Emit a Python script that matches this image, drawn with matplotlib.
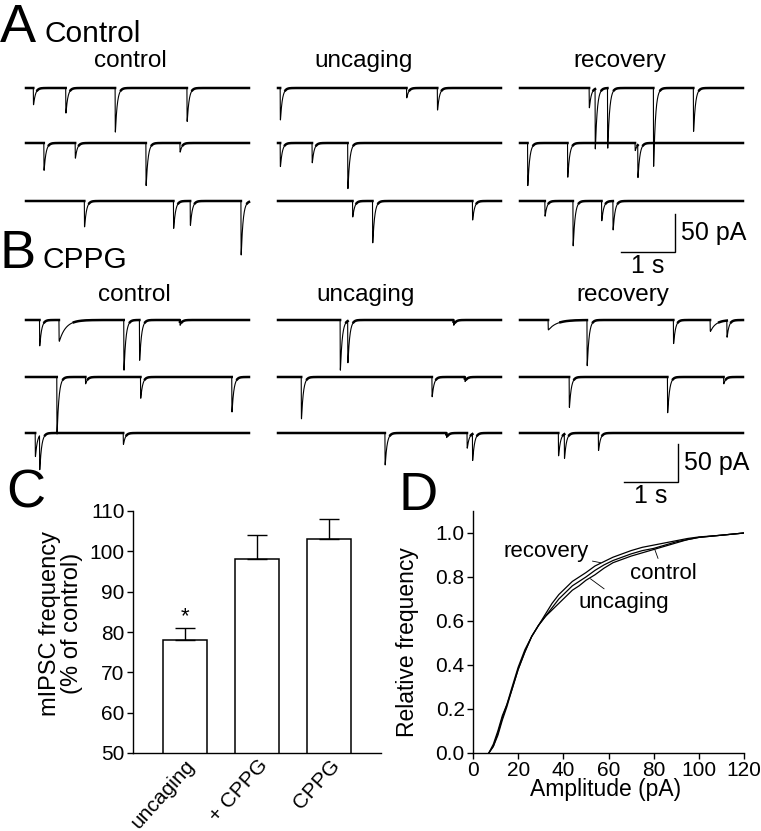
import numpy as np
import matplotlib.pyplot as plt

plt.rcParams['font.family'] = ['Liberation Sans', 'DejaVu Sans']

W, H = 761, 831
DPI = 100

# ---------------- sweeps: mIPSC events (time s, amplitude pA[, decay s]) ----------------
TRACE_DUR = 4.13
ctrl_control = [
    [(0.135, 22), (0.735, 33), (1.65, 58), (2.98, 44)],
    [(0.33, 36), (0.91, 20), (2.22, 56), (2.85, 12)],
    [(1.08, 34), (2.73, 36), (3.04, 32), (3.98, 71)],
]
ctrl_uncaging = [
    [(0.04, 42), (2.38, 13), (2.95, 29)],
    [(0.04, 31), (0.63, 26), (1.29, 60)],
    [(1.38, 21), (1.75, 55), (3.60, 25)],
]
ctrl_recovery = [
    [(1.28, 26), (1.39, 79), (1.62, 79), (2.47, 103), (3.21, 57)],
    [(0.14, 56), (0.88, 45), (2.13, 10), (2.18, 43)],
    [(0.46, 20), (0.98, 59), (1.51, 26), (1.72, 38)],
]
cppg_control = [
    [(0.25, 34), (0.61, 28, 0.12), (1.81, 66), (2.10, 53), (2.85, 7)],
    [(0.57, 75), (1.10, 9), (2.12, 28), (3.81, 46)],
    [(0.17, 31), (0.25, 45), (1.80, 15)],
]
cppg_uncaging = [
    [(1.15, 66), (1.29, 55), (3.25, 7)],
    [(0.43, 55), (2.85, 26), (3.46, 6)],
    [(1.98, 42), (3.12, 6), (3.50, 20), (3.60, 35)],
]
cppg_recovery = [
    [(0.52, 13, 0.15), (1.24, 60), (2.84, 31), (3.52, 15, 0.1), (3.83, 22)],
    [(0.91, 40), (2.73, 47), (3.77, 9)],
    [(0.71, 30), (0.82, 32), (1.45, 23)],
]
col_titles = ['control', 'uncaging', 'recovery']

# ---------------- C: mIPSC frequency ----------------
bar_names = ['uncaging', '+ CPPG', 'CPPG']
bar_vals = [78, 98, 103]
bar_err = [3, 6, 5]

# ---------------- D: cumulative amplitude ----------------
amp = [7, 9, 11, 13, 15, 17, 20, 23, 26, 29, 32, 35, 38, 41, 44, 47, 50, 54, 58,
       62, 66, 70, 75, 80, 85, 90, 95, 100, 110, 120]
cum_recovery = [0, 0.04, 0.10, 0.17, 0.22, 0.28, 0.38, 0.46, 0.53, 0.58, 0.63, 0.68,
                0.72, 0.75, 0.78, 0.80, 0.82, 0.85, 0.87, 0.89, 0.905, 0.92, 0.935,
                0.945, 0.955, 0.965, 0.975, 0.982, 0.99, 1.0]
cum_control = [0, 0.03, 0.08, 0.15, 0.21, 0.28, 0.38, 0.46, 0.53, 0.58, 0.62, 0.66,
               0.70, 0.73, 0.76, 0.78, 0.80, 0.83, 0.855, 0.875, 0.89, 0.905, 0.92,
               0.93, 0.945, 0.96, 0.97, 0.98, 0.99, 1.0]
cum_uncaging = [0, 0.03, 0.09, 0.16, 0.22, 0.29, 0.39, 0.47, 0.53, 0.58, 0.62, 0.65,
                0.68, 0.71, 0.74, 0.76, 0.785, 0.81, 0.84, 0.865, 0.88, 0.895, 0.91,
                0.925, 0.94, 0.955, 0.97, 0.98, 0.99, 1.0]

fig = plt.figure(figsize=(W / DPI, H / DPI), dpi=DPI)

t = np.arange(0, TRACE_DUR, 0.0005)


def sweep(events):
    y = np.zeros_like(t)
    for ev in events:
        t0, a = ev[0], ev[1]
        tau_d = ev[2] if len(ev) > 2 else 0.035
        s = np.clip(t - t0, 0, None)
        k = (1 - np.exp(-s / 0.0015)) * np.exp(-s / tau_d)
        y -= a * k / k.max()
    return y


PX_S, PX_PA = 54.0, 0.76     # scale of the traces: pixels per s, pixels per pA
COL_X = [26, 278, 520]


def trace_panel(top, bottom, rows_y, cols, corner):
    ax = fig.add_axes([0, 1 - bottom / H, 1, (bottom - top) / H])
    ax.set_xlim(0, W / PX_S)
    ax.set_ylim(-(bottom - top) / PX_PA, 0)
    ax.axis('off')
    for ci, col in enumerate(cols):
        x0 = COL_X[ci] / PX_S
        for ri, ev in enumerate(col):
            y0 = -(rows_y[ri] - top) / PX_PA
            y = sweep(ev)
            band = np.where(y > -3, y, np.nan)
            ax.plot(t + x0, y + y0, color='k', lw=0.8, clip_on=False)
            ax.plot(t + x0, band + y0, color='k', lw=1.8, clip_on=False)
    bx = corner[0] / PX_S
    by = -(corner[1] - top) / PX_PA
    ax.plot([bx - 1, bx, bx], [by, by, by + 50], color='k', lw=1.0,
            solid_joinstyle='miter')
    ax.text(bx + 0.12, by + 25, '50 pA', fontsize=18, ha='left', va='center')
    ax.text(bx - 0.5, by - 2, '1 s', fontsize=18, ha='center', va='top')
    return ax


trace_panel(60, 290, [88, 143, 201], [ctrl_control, ctrl_uncaging, ctrl_recovery], (675, 252))
trace_panel(300, 500, [320, 377, 433], [cppg_control, cppg_uncaging, cppg_recovery], (678, 482))

for x, title in zip([130, 364, 620], col_titles):
    fig.text(x / W, 1 - 61 / H, title, fontsize=17.5, ha='center', va='center')
for x, title in zip([134, 366, 623], col_titles):
    fig.text(x / W, 1 - 295 / H, title, fontsize=17.5, ha='center', va='center')

fig.text(0, 1 - 42 / H, 'A', fontsize=39, va='baseline')
fig.text(45 / W, 1 - 42 / H, 'Control', fontsize=21.5, va='baseline')
fig.text(0, 1 - 268 / H, 'B', fontsize=39, va='baseline')
fig.text(43 / W, 1 - 268 / H, 'CPPG', fontsize=21.5, va='baseline')
fig.text(6 / W, 1 - 507 / H, 'C', fontsize=39, va='baseline')
fig.text(399 / W, 1 - 510 / H, 'D', fontsize=39, va='baseline')

# ---------------- panel C ----------------
axc = fig.add_axes([133 / W, 1 - 753 / H, 248 / W, 242 / H])
x = np.arange(len(bar_vals))
axc.bar(x, bar_vals, width=0.61, color='white', edgecolor='k', linewidth=1.1)
axc.errorbar(x, bar_vals, yerr=[[0] * 3, bar_err], fmt='none', ecolor='k',
             elinewidth=1.0, capsize=7.5, capthick=1.0)
axc.text(0, 81.3, '*', fontsize=16, ha='center', va='bottom')
axc.set_xlim(-0.72, 2.72)
axc.set_ylim(50, 110)
axc.set_yticks(range(50, 111, 10))
axc.set_xticks(x)
axc.set_xticklabels(bar_names, rotation=48, ha='right', va='top',
                    rotation_mode='anchor', fontsize=15)
axc.tick_params(axis='x', length=0, pad=2)
axc.tick_params(axis='y', direction='out', length=4, width=1, labelsize=15, pad=2)
axc.set_ylabel('mIPSC frequency\n(% of control)', fontsize=17, linespacing=1.05)
axc.yaxis.set_label_coords(-0.2, 0.537)
for s in ['top', 'right']:
    axc.spines[s].set_visible(False)
for s in ['left', 'bottom']:
    axc.spines[s].set_linewidth(1.0)

# ---------------- panel D ----------------
axd = fig.add_axes([473 / W, 1 - 753 / H, 271 / W, 242 / H])
for cum in [cum_recovery, cum_control, cum_uncaging]:
    axd.plot(amp, cum, color='k', lw=0.9)
lead = dict(arrowstyle='-', lw=0.6, color='k', shrinkA=1, shrinkB=0)
axd.annotate('recovery', xy=(56.5, 0.865), xytext=(13.3, 0.914), fontsize=16,
             ha='left', va='center', arrowprops=lead)
axd.annotate('control', xy=(80.5, 0.925), xytext=(69.5, 0.818), fontsize=16,
             ha='left', va='center', arrowprops=lead)
axd.annotate('uncaging', xy=(52, 0.792), xytext=(46.5, 0.682), fontsize=16,
             ha='left', va='center', arrowprops=lead)
axd.set_xlim(0, 120)
axd.set_ylim(0, 1.1)
axd.set_xticks(range(0, 121, 20))
axd.set_yticks(np.arange(0, 1.01, 0.2))
axd.set_yticklabels(['%.1f' % v for v in np.arange(0, 1.01, 0.2)])
axd.tick_params(direction='out', length=4, width=1, labelsize=15, pad=2)
axd.set_xlabel('Amplitude (pA)', fontsize=16.5)
axd.xaxis.set_label_coords(0.49, -0.105)
axd.set_ylabel('Relative frequency', fontsize=16.5)
axd.yaxis.set_label_coords(-0.2, 0.46)
for s in ['top', 'right']:
    axd.spines[s].set_visible(False)
for s in ['left', 'bottom']:
    axd.spines[s].set_linewidth(1.0)

fig.savefig('out.png', dpi=DPI)
